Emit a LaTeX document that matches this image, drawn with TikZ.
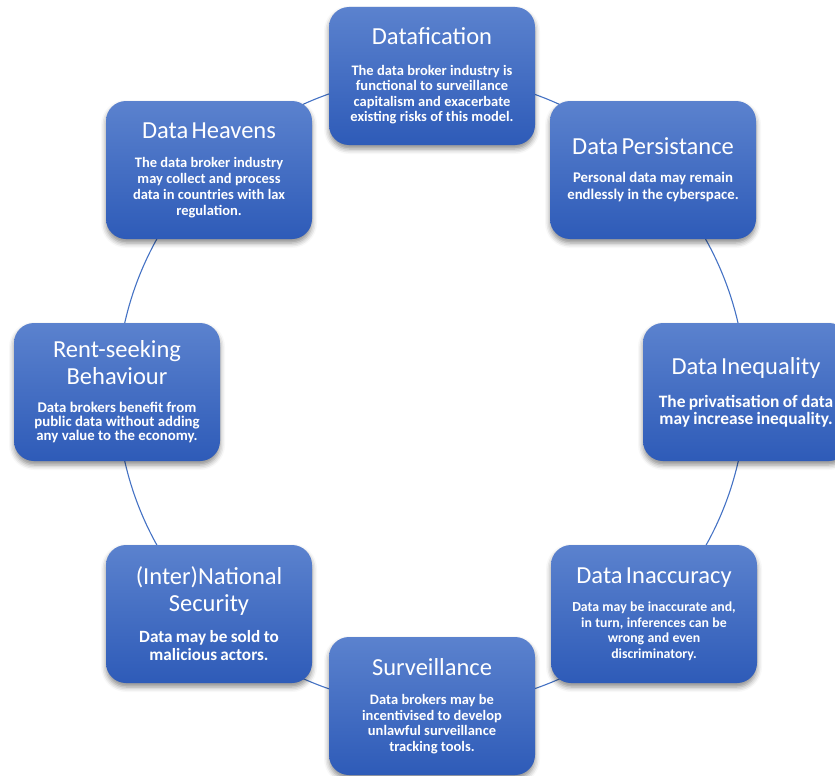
\documentclass[tikz,border=0pt]{standalone}
\usepackage{fontspec}
\setmainfont{Carlito}
\usetikzlibrary{shadows.blur,backgrounds}
\definecolor{boxtop}{HTML}{5B82CE}
\definecolor{boxbot}{HTML}{2E5BB8}
\definecolor{arccol}{HTML}{4472C4}
% #1 title, #2 body, #3 body size, #4 body skip, #5 gap
\newcommand{\cardtext}[5]{{\fontsize{24.5}{27}\selectfont #1\par}\vspace{#5}{\fontsize{#3}{#4}\selectfont\bfseries #2\par}}
\tikzset{
  card/.style={rounded corners=20pt, minimum width=206pt, minimum height=138pt,
    text width=198pt, align=center, inner sep=0pt, top color=boxtop, bottom color=boxbot,
    text=white, blur shadow={shadow xshift=0pt, shadow yshift=-4pt, shadow blur radius=5pt, shadow opacity=45}},
  conn/.style={draw=arccol, line width=1.1pt},
  arcto/.style={bend left=22.5, looseness=0.886}
}
\begin{document}
\begin{tikzpicture}[x=1pt,y=-1pt]
\useasboundingbox (0,0) rectangle (835,776);
\node[card] (dat) at (432,76) {\cardtext{Datafication}{The data broker industry is\\functional to surveillance\\capitalism and exacerbate\\existing risks of this model.}{14.5pt}{15.5pt}{15pt}};
\node[card] (per) at (653,170) {\cardtext{Data Persistance}{Personal data may remain\\endlessly in the cyberspace.}{14.8pt}{17pt}{11pt}};
\node[card] (ineq) at (746,392) {\cardtext{Data Inequality}{The privatisation of data\\may increase inequality.}{17.4pt}{17pt}{16pt}};
\node[card] (inacc) at (654,614) {\cardtext{Data Inaccuracy}{Data may be inaccurate and,\\in turn, inferences can be\\wrong and even\\discriminatory.}{13.8pt}{15.5pt}{13pt}};
\node[card] (surv) at (432,706) {\cardtext{Surveillance}{Data brokers may be\\incentivised to develop\\unlawful surveillance\\tracking tools.}{14.5pt}{15.5pt}{14pt}};
\node[card] (sec) at (209,614) {\cardtext{(Inter)National\\Security}{Data may be sold to\\malicious actors.}{17.2pt}{18pt}{13pt}};
\node[card] (rent) at (117,392) {\cardtext{Rent-seeking\\Behaviour}{Data brokers benefit from\\public data without adding\\any value to the economy.}{14.8pt}{14pt}{14pt}};
\node[card] (hea) at (209,170) {\cardtext{Data Heavens}{The data broker industry\\may collect and process\\data in countries with lax\\regulation.}{14.5pt}{15.7pt}{14pt}};
\begin{scope}[on background layer]
\draw[conn] (dat.center) to[arcto] (per.center);
\draw[conn] (per.center) to[arcto] (ineq.center);
\draw[conn] (ineq.center) to[arcto] (inacc.center);
\draw[conn] (inacc.center) to[arcto] (surv.center);
\draw[conn] (surv.center) to[arcto] (sec.center);
\draw[conn] (sec.center) to[arcto] (rent.center);
\draw[conn] (rent.center) to[arcto] (hea.center);
\draw[conn] (hea.center) to[arcto] (dat.center);
\end{scope}
\end{tikzpicture}
\end{document}
